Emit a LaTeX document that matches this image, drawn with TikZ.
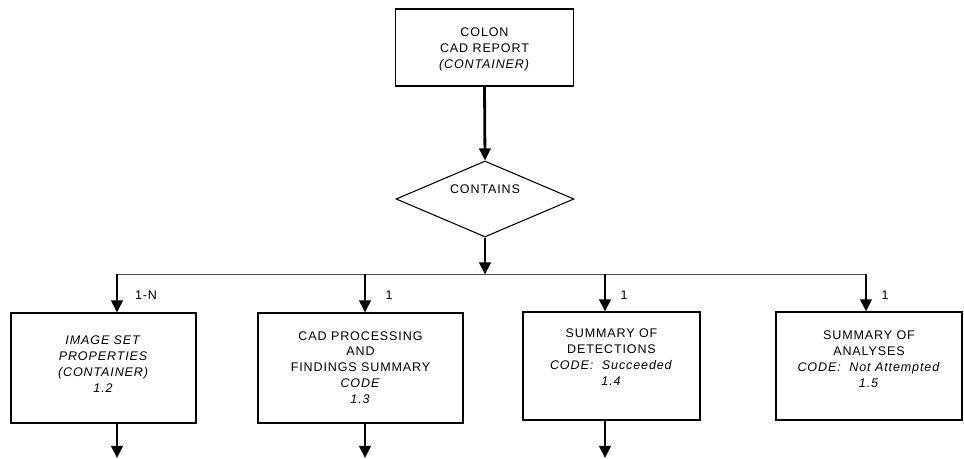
\documentclass[tikz,border=0pt]{standalone}
\usepackage{fontspec}
\setmainfont{Liberation Sans}[LetterSpace=7]
\usetikzlibrary{arrows.meta,shapes.geometric}
\begin{document}
\begin{tikzpicture}[x=0.75pt,y=-0.75pt,
  boxshape/.style={draw=black,line width=0.8pt,rectangle,inner sep=0pt},
  txt/.style={font=\fontsize{9.4}{11.9}\selectfont,align=center,inner sep=0pt,anchor=north},
  lbl/.style={font=\fontsize{9.4}{11}\selectfont,inner sep=0pt},
  thickarrow/.style={line width=2.1pt,-{Triangle[length=9pt,width=8.5pt]}},
  busline/.style={draw=black!70,line width=1.1pt}]
\useasboundingbox (0,0) rectangle (964,459);
% top box
\node[boxshape,minimum width=178*0.75pt,minimum height=77*0.75pt] (top) at (484.5,47.5) {};
\node[txt] (toptxt) at (484.5,27.5) {COLON\\CAD REPORT\\\textit{(CONTAINER)}};
% diamond
\node[draw=black,line width=0.8pt,diamond,aspect=2.34,minimum width=178*0.75pt,minimum height=76*0.75pt,inner sep=0pt] (dia) at (485,199) {};
\node[lbl] (diatxt) at (485,189) {CONTAINS};
\draw[thickarrow] (top.south) -- (dia.north);
% bus
\coordinate (bl) at (117,274.5);
\coordinate (br) at (866,274.5);
\coordinate (bm) at (485,274.5);
\draw[busline] (bl) -- (br);
\draw[thickarrow] (dia.south) -- (bm);
% child boxes
\node[boxshape,minimum width=185*0.75pt,minimum height=110*0.75pt] (b1) at (103.5,368) {};
\node[boxshape,minimum width=205*0.75pt,minimum height=110*0.75pt] (b2) at (360.5,368) {};
\node[boxshape,minimum width=177*0.75pt,minimum height=108*0.75pt] (b3) at (611.5,366) {};
\node[boxshape,minimum width=186*0.75pt,minimum height=108*0.75pt] (b4) at (869,366) {};
\node[txt] (t1) at (103.5,335.5) {\textit{IMAGE SET}\\\textit{PROPERTIES}\\\textit{(CONTAINER)}\\\textit{1.2}};
\node[txt] (t2) at (360.5,331) {CAD PROCESSING\\AND\\FINDINGS SUMMARY\\\textit{CODE}\\\textit{1.3}};
\node[txt] (t3) at (611.5,328.5) {SUMMARY OF\\DETECTIONS\\\textit{CODE:\ \ Succeeded}\\\textit{1.4}};
\node[txt] (t4) at (869,330.5) {SUMMARY OF\\ANALYSES\\\textit{CODE:\ \ Not Attempted}\\\textit{1.5}};
% bus taps
\coordinate (c1) at (117,274.5);
\coordinate (c2) at (365,274.5);
\coordinate (c3) at (605,274.5);
\coordinate (c4) at (866,274.5);
\draw[thickarrow] (c1) -- (c1 |- b1.north);
\draw[thickarrow] (c2) -- (c2 |- b2.north);
\draw[thickarrow] (c3) -- (c3 |- b3.north);
\draw[thickarrow] (c4) -- (c4 |- b4.north);
\node[lbl] (l1) at (146,295) {1-N};
\node[lbl] (l2) at (389,295) {1};
\node[lbl] (l3) at (624,295) {1};
\node[lbl] (l4) at (885,295) {1};
% outgoing arrows
\coordinate (o1) at (117,458);
\coordinate (o2) at (365,458);
\coordinate (o3) at (605,458);
\draw[thickarrow] (o1 |- b1.south) -- (o1);
\draw[thickarrow] (o2 |- b2.south) -- (o2);
\draw[thickarrow] (o3 |- b3.south) -- (o3);
\end{tikzpicture}
\end{document}
